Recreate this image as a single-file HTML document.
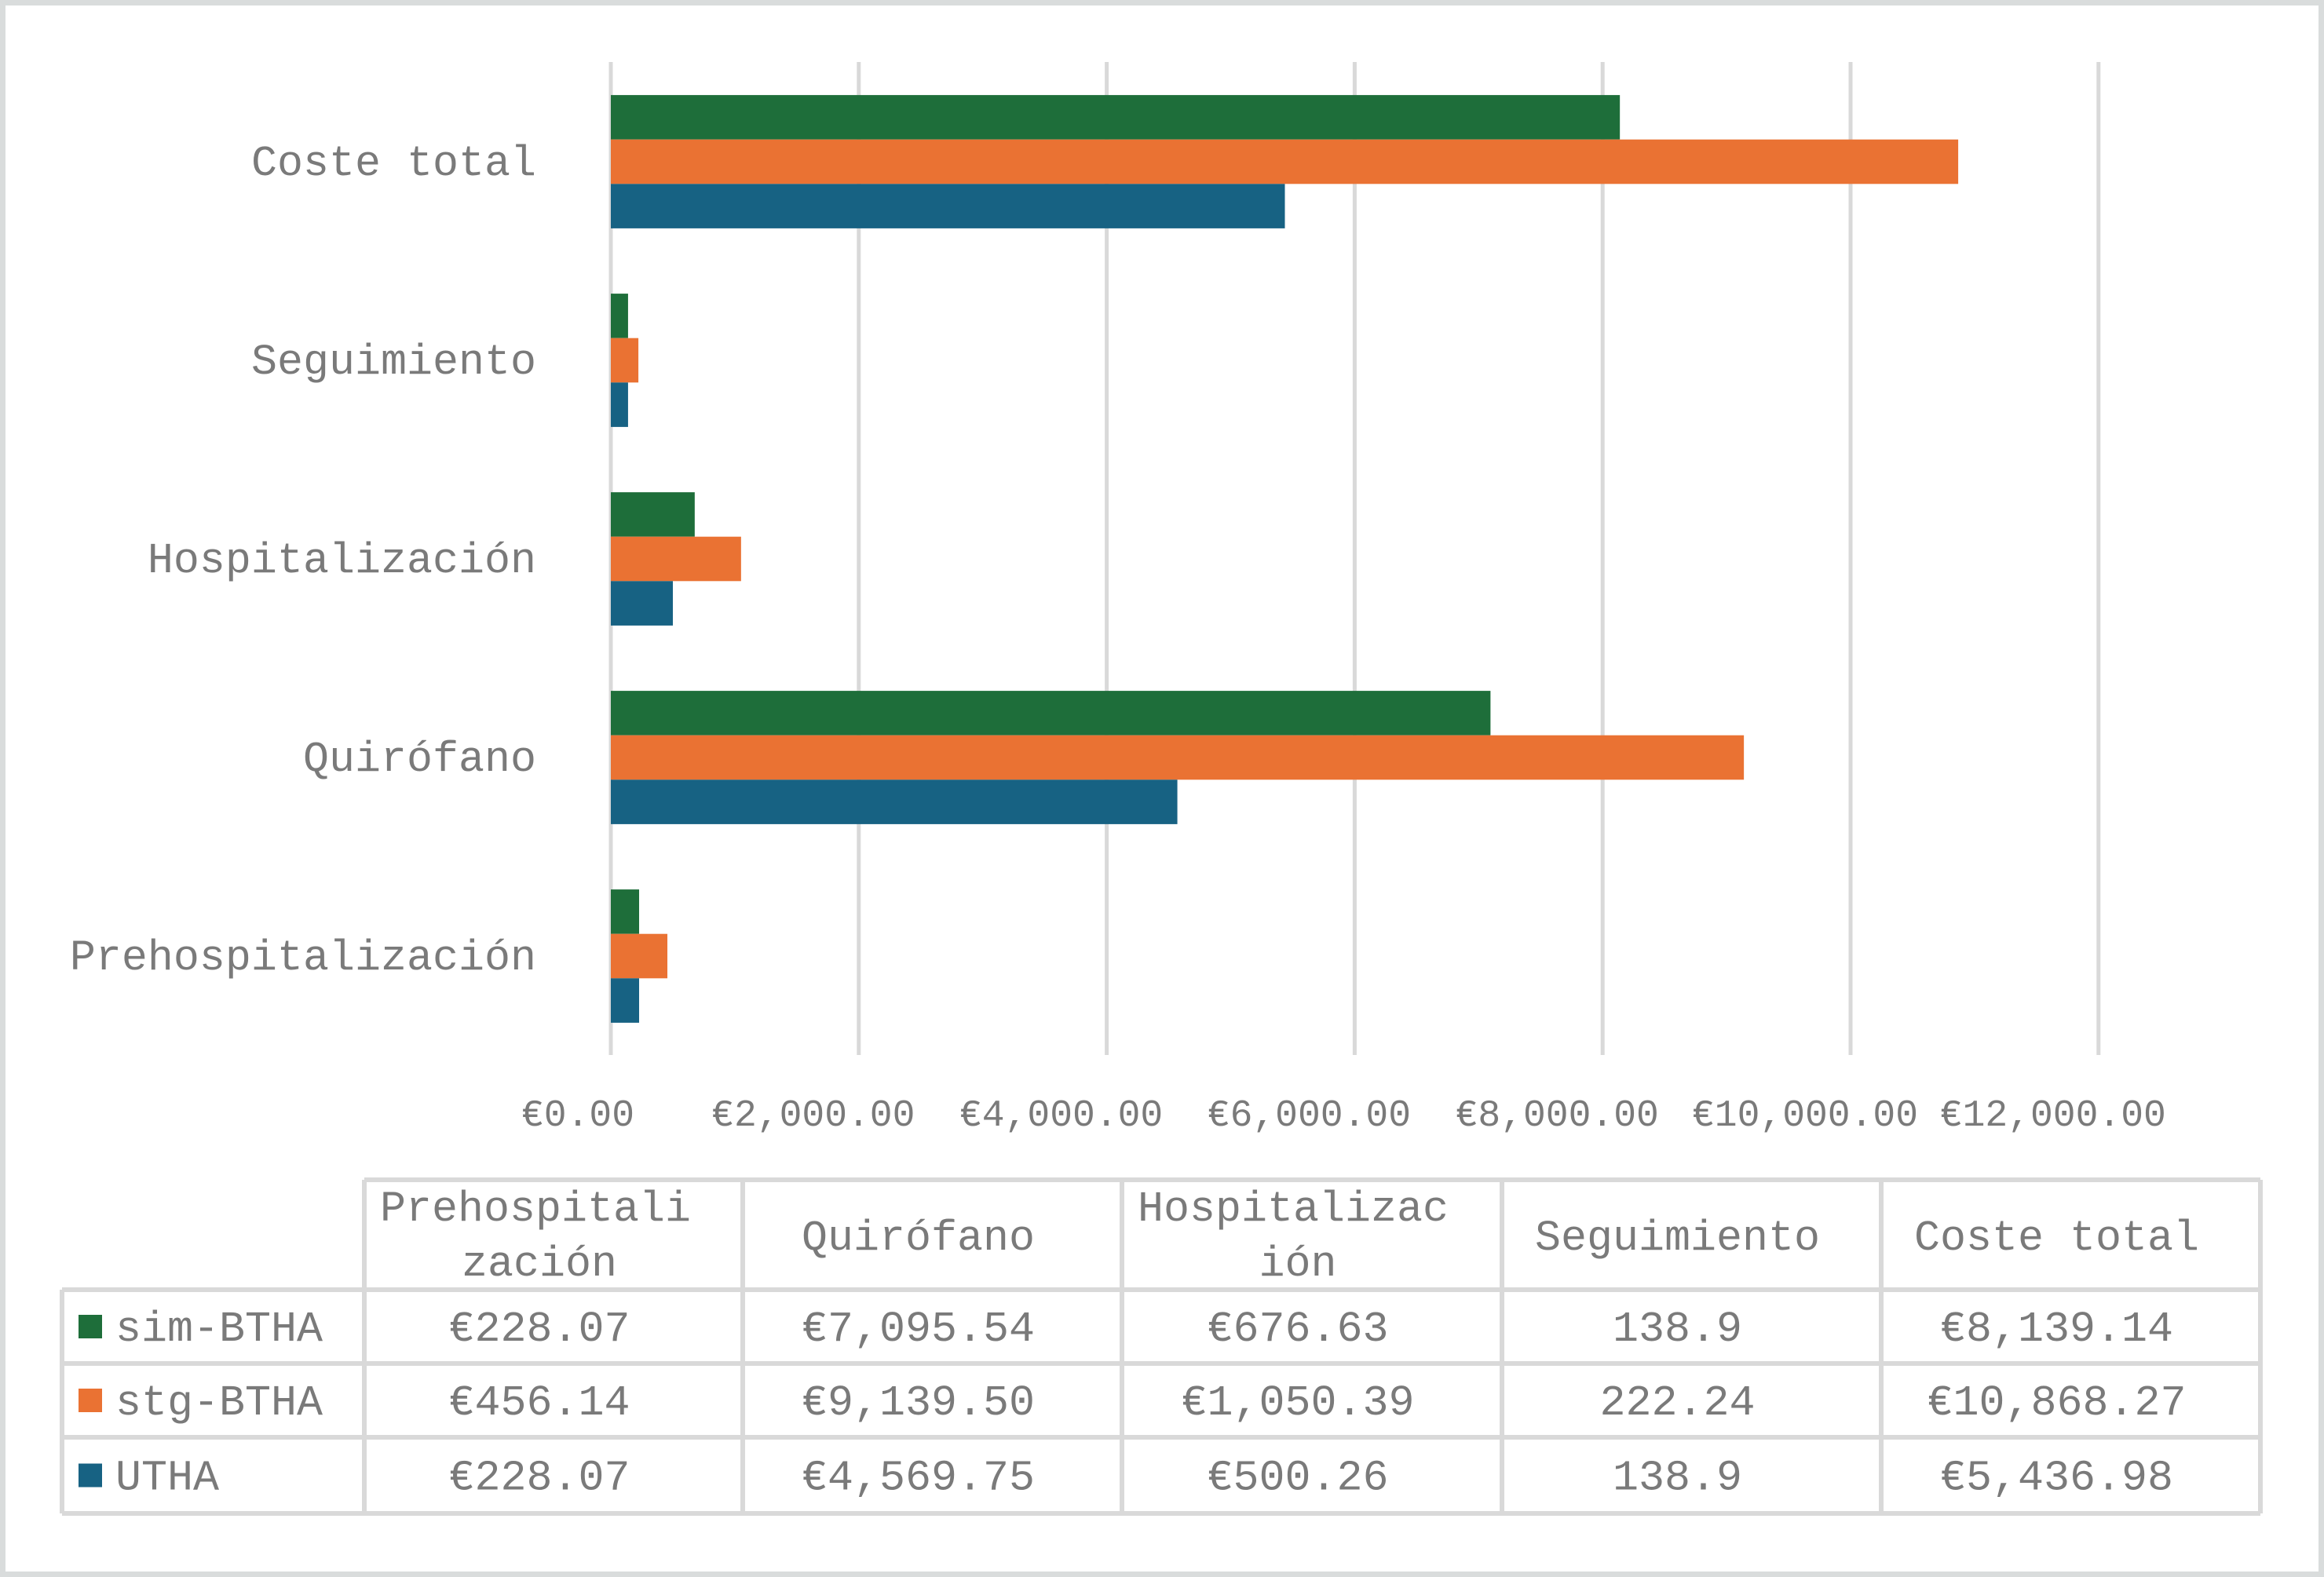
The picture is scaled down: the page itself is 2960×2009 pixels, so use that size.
<!DOCTYPE html>
<html><head><meta charset="utf-8"><style>
html,body{margin:0;padding:0;background:#fff;}
#wrap{position:relative;width:2960px;height:2009px;box-sizing:border-box;border:7px solid #d9dcdc;background:#fff;overflow:hidden;}
svg{position:absolute;left:-7px;top:-7px;}
text{font-family:"Liberation Mono","DejaVu Sans Mono",monospace;fill:#7a7a7a;}
</style></head><body>
<div id="wrap">
<svg id="chart" width="2960" height="2009" xmlns="http://www.w3.org/2000/svg"></svg>
</div>
<script>
const categories = ["Prehospitalización","Quirófano","Hospitalización","Seguimiento","Coste total"];
const headerLines = [["Prehospitali","zación"],["Quirófano"],["Hospitalizac","ión"],["Seguimiento"],["Coste total"]];
const seriesNames = ["sim-BTHA","stg-BTHA","UTHA"];
const simValues = [228.07, 7095.54, 676.63, 138.9, 8139.14];
const stgValues = [456.14, 9139.50, 1050.39, 222.24, 10868.27];
const uthaValues = [228.07, 4569.75, 500.26, 138.9, 5436.98];
const simLabels = ["€228.07","€7,095.54","€676.63","138.9","€8,139.14"];
const stgLabels = ["€456.14","€9,139.50","€1,050.39","222.24","€10,868.27"];
const uthaLabels = ["€228.07","€4,569.75","€500.26","138.9","€5,436.98"];
const ticks = [0,2000,4000,6000,8000,10000,12000];
const tickLabels = ["€0.00","€2,000.00","€4,000.00","€6,000.00","€8,000.00","€10,000.00","€12,000.00"];

const colors = ["#1e6e3a","#ea7233","#176283"];
const svg = document.getElementById('chart');
const NS = "http://www.w3.org/2000/svg";
function mk(tag, attrs, parent){const e=document.createElementNS(NS,tag);for(const k in attrs)e.setAttribute(k,attrs[k]);(parent||svg).appendChild(e);return e;}
const X0=778, PX_PER=315.8/2000;
function xs(v){return X0+v*PX_PER;}
function yc(i){return 1218 - i*253;}
const BH=56.6;

ticks.forEach((t,i)=>{
  const l=mk('line',{x1:xs(t),x2:xs(t),y1:79,y2:1344,stroke:'#d9d9d9','stroke-width':5});
  
  
  const tx=mk('text',{x:xs(t)-(i===0?42:58),y:1434,'font-size':48,'text-anchor':'middle'});
  tx.textContent=tickLabels[i];
  
  
});
const allSeries=[simValues,stgValues,uthaValues];
categories.forEach((c,i)=>{
  const t=mk('text',{x:683,y:yc(i)+17,'font-size':55,'text-anchor':'end'});
  t.textContent=c;
  
  
  allSeries.forEach((s,j)=>{
    const top=yc(i)-1.5*BH+j*BH;
    const r=mk('rect',{x:xs(0),y:top,width:xs(s[i])-xs(0),height:BH,fill:colors[j]});
    
    
  });
});
const colX=[464,946,1429,1913,2396,2879];
const rowY=[1503,1643,1737,1831,1928];
const LX=79;
const SHIFT=-18;
const g=mk('g',{stroke:'#d9d9d9','stroke-width':6});


mk('line',{x1:colX[0],x2:colX[5],y1:rowY[0],y2:rowY[0]},g);
for(let r=1;r<rowY.length;r++) mk('line',{x1:LX,x2:colX[5],y1:rowY[r],y2:rowY[r]},g);
colX.forEach(x=>mk('line',{x1:x,x2:x,y1:rowY[0],y2:rowY[4]},g));
mk('line',{x1:LX,x2:LX,y1:rowY[1],y2:rowY[4]},g);
headerLines.forEach((lines,i)=>{
  const cx=(colX[i]+colX[i+1])/2+SHIFT;
  lines.forEach((ln,k)=>{
    const y = lines.length===1 ? 1592 : 1555+k*70;
    const first = lines.length>1 && k===0;
    const t=mk('text',{x:first?colX[i]+20:cx,y:y,'font-size':55,'text-anchor':first?'start':'middle'});
    t.textContent=ln;
    
    
  });
});
const rowLabels=[simLabels,stgLabels,uthaLabels];
rowLabels.forEach((labs,r)=>{
  const cy=(rowY[r+1]+rowY[r+2])/2;
  const sq=mk('rect',{x:100,y:cy-15,width:30,height:30,fill:colors[r]});
  
  
  const nt=mk('text',{x:147,y:cy+18,'font-size':55});
  nt.textContent=seriesNames[r];
  
  
  labs.forEach((v,i)=>{
    const t=mk('text',{x:(colX[i]+colX[i+1])/2+SHIFT,y:cy+18,'font-size':55,'text-anchor':'middle'});
    t.textContent=v;
    
    
  });
});
</script>
</body></html>
